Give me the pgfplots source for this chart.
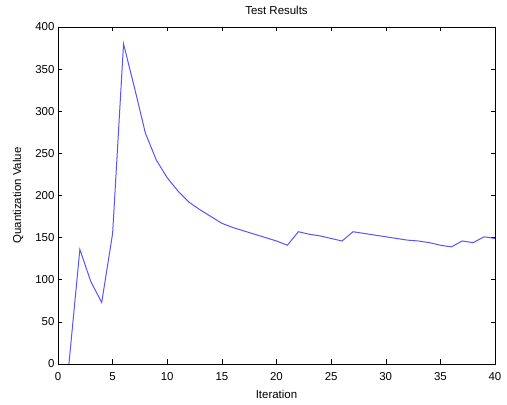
\documentclass[border=0pt]{standalone}
\usepackage{pgfplots}
\pgfplotsset{compat=1.18}
\usepackage{fontspec}
\setmainfont{Liberation Sans}
\definecolor{lineblue}{RGB}{85,85,255}
\begin{document}
\begin{tikzpicture}
\begin{axis}[
  scale only axis,
  width=437bp, height=337bp,
  xmin=0, xmax=40, ymin=0, ymax=400,
  xtick={0,5,...,40}, ytick={0,50,...,400},
  tick align=inside,
  major tick length=4.5bp,
  tick style={black, line width=0.5bp},
  axis line style={line width=0.6bp},
  /pgf/number format/assume math mode=true,
  ticklabel style={font=\fontsize{11.5}{13}\selectfont},
  xticklabel style={yshift=-5bp},
  label style={font=\fontsize{11.5}{13}\selectfont},
  title={Test Results},
  xlabel={Iteration},
  ylabel={Quantization Value},
  title style={font=\fontsize{11.5}{13}\selectfont, at={(axis description cs:0.5,1)}, anchor=center, yshift=11bp},
  xlabel style={at={(axis description cs:0.5,-0.089)}, anchor=center},
  ylabel style={at={(axis description cs:-0.0915,0.5)}, anchor=center},
]
\addplot[color=lineblue, line width=1bp, mark=none] coordinates {
(1,0) (2,136) (3,98) (4,73) (5,155) (6,380) (7,328) (8,274) (9,242) (10,221)
(11,205) (12,192) (13,183) (14,175) (15,167) (16,162) (17,158) (18,154) (19,150) (20,146)
(21,141) (22,157) (23,154) (24,152) (25,149) (26,146) (27,157) (28,155) (29,153) (30,151)
(31,149) (32,147) (33,146) (34,144) (35,141) (36,139) (37,146) (38,144) (39,151) (40,149)
};
\end{axis}
\pgfresetboundingbox
\path[use as bounding box] (-58bp,-41bp) rectangle (449bp,364bp);
\end{tikzpicture}
\end{document}
